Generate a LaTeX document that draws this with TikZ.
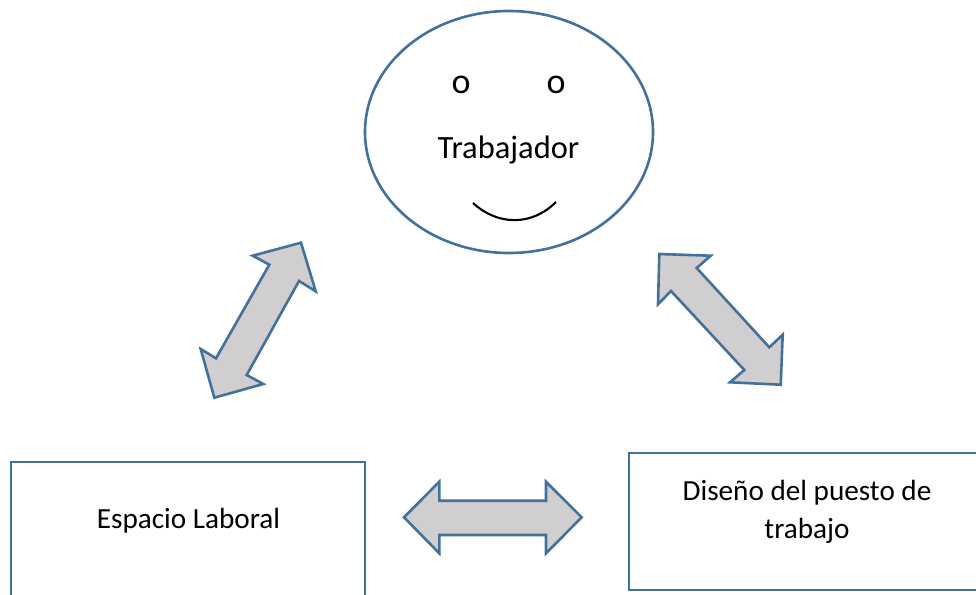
\documentclass[tikz,border=0pt]{standalone}
\usepackage{fontspec}
\setmainfont{Carlito}
\usetikzlibrary{shapes.geometric}
\definecolor{edgeblue}{RGB}{65,113,156}
\definecolor{blockgray}{RGB}{208,206,206}
\tikzset{
  x=1pt,y=-1pt,
  outlined/.style={draw=edgeblue,line width=2.6pt},
  blockarrow/.style={outlined,fill=blockgray,line join=miter},
  label/.style={font=\fontsize{29.2}{38}\selectfont,text=black,inner sep=0pt,align=center},
  biglabel/.style={label,font=\fontsize{32.5}{38}\selectfont},
  eyelabel/.style={label,font=\fontsize{36}{38}\selectfont},
}
\begin{document}
\begin{tikzpicture}
\useasboundingbox (0,0) rectangle (976,594);
\clip (0,0) rectangle (976,594);
\node[ellipse,outlined,fill=white,minimum width=288pt,minimum height=242pt,inner sep=0pt] (worker) at (509,132) {};
\node[rectangle,outlined,fill=white,minimum width=354pt,minimum height=150pt,inner sep=0pt] (space) at (188,537) {};
\node[rectangle,outlined,fill=white,minimum width=370pt,minimum height=137pt,inner sep=0pt] (design) at (814,521.5) {};
\node[eyelabel] (eyeL) at (461,85) {o};
\node[eyelabel] (eyeR) at (556,85) {o};
\node[biglabel] (workerText) at (508.5,150) {Trabajador};
\node[label] (spaceText) at (188.5,521) {Espacio Laboral};
\node[label] (designText) at (807,512) {Diseño del puesto de\\trabajo};
\coordinate (smileL) at (473,203);
\coordinate (smileR) at (556,202);
\draw[line width=2.1pt,black] (smileL) .. controls (498,226) and (532,226) .. (smileR);
\draw[blockarrow] (301,242.7) -- (252.7,255.7) -- (269.3,264.7) -- (216,358.3) -- (200.7,349) -- (214.3,397.7) -- (263.3,384) -- (246.7,375) -- (299,281) -- (315.7,291.3) -- cycle;
\draw[blockarrow] (659.3,254) -- (710.7,255.7) -- (696.7,268) -- (769.3,347.3) -- (782.7,334.7) -- (780.7,384.7) -- (730,382.3) -- (744.3,370) -- (671,291) -- (658,304.3) -- cycle;
\draw[blockarrow] (404,517.3) -- (439.3,481.7) -- (439.3,500.7) -- (546,500.7) -- (546,481.7) -- (581.7,517.3) -- (546,553.3) -- (546,535) -- (439.3,535) -- (439.3,553.3) -- cycle;
\end{tikzpicture}
\end{document}
